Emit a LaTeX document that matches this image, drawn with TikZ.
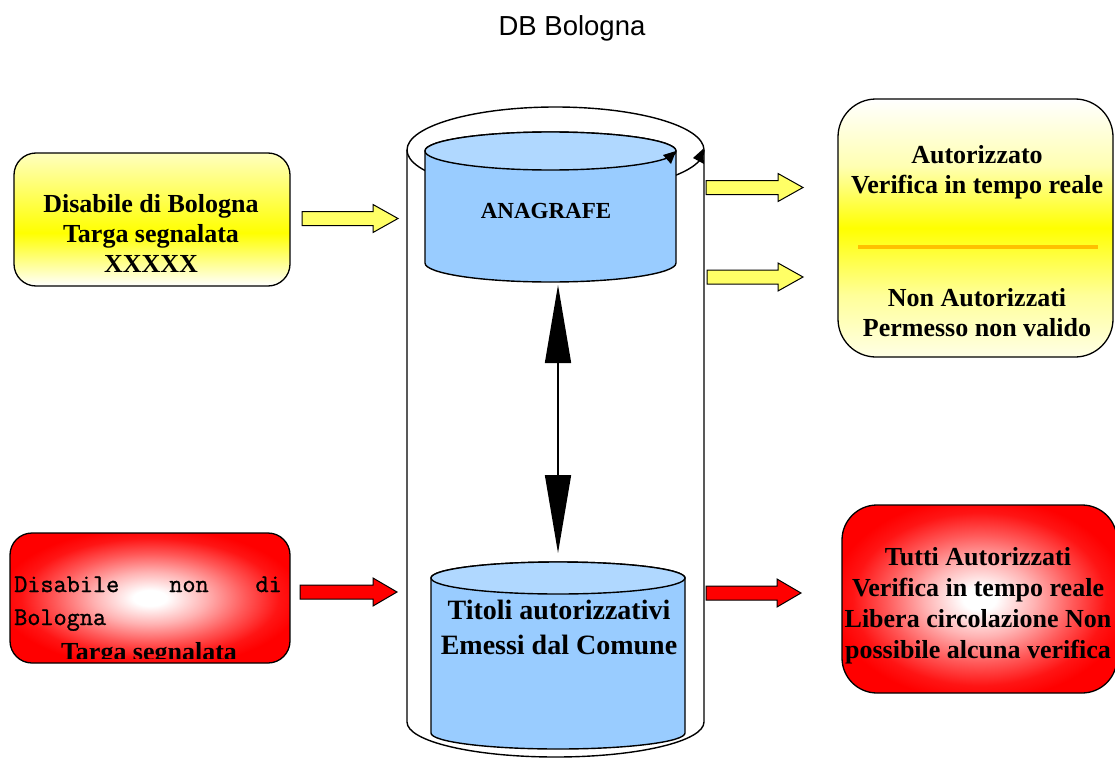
\documentclass[tikz,border=0pt]{standalone}
\usepackage{fontspec}
\setmainfont{Liberation Serif}
\newfontfamily\titlefont{Liberation Sans}
\newfontfamily\monofont[FakeBold=1.2]{Latin Modern Mono}
\usetikzlibrary{arrows.meta}

\definecolor{dbblue}{HTML}{99CCFF}
\definecolor{dbbluetop}{HTML}{B0D8FF}
\definecolor{sepline}{HTML}{FFC000}
\definecolor{arrowyellow}{HTML}{FFFF66}

% vertical glow of the yellow boxes (0bp = bottom, 100bp = top)
\pgfdeclareverticalshading{inputyellow}{100bp}{color(0bp)=(white); color(25bp)=(white); color(45bp)=(yellow); color(75bp)=(yellow!25); color(100bp)=(yellow!25)}
\pgfdeclareverticalshading{outputyellow}{100bp}{color(0bp)=(yellow!10); color(25bp)=(yellow!10); color(37bp)=(yellow!40); color(50bp)=(yellow); color(62bp)=(yellow!30); color(75bp)=(white); color(100bp)=(white)}
% white core fading smoothly to red at the border
\pgfdeclareradialshading{redglow}{\pgfpoint{0bp}{0bp}}{color(0bp)=(white); color(3bp)=(white); color(10bp)=(red!30); color(17bp)=(red!65); color(23bp)=(red!92); color(27bp)=(red); color(50bp)=(red)}

% block arrow: start x, tip x, centre y, head base x, fill colour
\newcommand\blockarrow[5]{%
  \draw[line width=1pt, fill=#5] (#1,#3-7) -- (#4,#3-7) -- (#4,#3-14) -- (#2,#3)
    -- (#4,#3+14) -- (#4,#3+7) -- (#1,#3+7) -- cycle;}

\tikzset{
  box/.style={draw, line width=1.3pt, inner sep=0pt},
  boxtext/.style={font=\bfseries\fontsize{26}{30}\selectfont, align=center, inner sep=0pt},
  dbline/.style={line width=1.4pt},
  monotext/.style={font=\monofont\fontsize{25.5}{30}\selectfont, inner sep=0pt},
}

\begin{document}
\begin{tikzpicture}[x=1pt,y=-1pt]
\useasboundingbox (0,0) rectangle (1115,757);
\fill[white] (0,0) rectangle (1115,757);

% title
\node[font=\titlefont\fontsize{27.5}{30}\selectfont, inner sep=0pt] (title) at (572,28) {DB Bologna};

% ---- outer database cylinder ----
\draw[dbline, fill=white] (407,150) -- (407,722)
  arc[start angle=180, end angle=360, x radius=148.5pt, y radius=35pt] -- (704,150);
\draw[dbline] (555.5,150) ellipse[x radius=148.5pt, y radius=43pt];
\fill (703,149) -- (693,158) -- (704,164) -- cycle;

% ---- ANAGRAFE cylinder ----
\draw[dbline, fill=dbblue] (425,151) -- (425,263)
  arc[start angle=180, end angle=360, x radius=125.5pt, y radius=19pt] -- (676,151)
  arc[start angle=0, end angle=180, x radius=125.5pt, y radius=19pt] -- cycle;
\draw[dbline, fill=dbbluetop] (550.5,151) ellipse[x radius=125.5pt, y radius=19pt];
\fill (676,151) -- (663,155) -- (671,164) -- cycle;
\node[font=\bfseries\fontsize{23}{26}\selectfont, inner sep=0pt] (ana) at (546,211) {ANAGRAFE};

% ---- Titoli cylinder ----
\draw[dbline, fill=dbblue] (431,578) -- (431,733)
  arc[start angle=180, end angle=360, x radius=127pt, y radius=16pt] -- (685,578)
  arc[start angle=0, end angle=180, x radius=127pt, y radius=16pt] -- cycle;
\draw[dbline, fill=dbbluetop] (558,578) ellipse[x radius=127pt, y radius=16pt];
\node[font=\bfseries\fontsize{28}{35}\selectfont, align=center, inner sep=0pt] (tit) at (559,627.2)
  {Titoli autorizzativi\\Emessi dal Comune};

% link between the two archives
\coordinate (anabot) at (558,285);
\coordinate (tittop) at (558,553);
\draw[line width=1.6pt, {Triangle[length=78pt,width=26pt]}-{Triangle[length=78pt,width=26pt]}] (anabot) -- (tittop);

% ---- input: resident ----
\node[box, rounded corners=22pt, minimum width=276pt, minimum height=133pt, shade, shading=inputyellow] (inres) at (152,219.5) {};
\node[boxtext] (inrestext) at (151,233) {Disabile di Bologna\\Targa segnalata\\XXXXX};
\blockarrow{302}{398}{218.5}{373}{arrowyellow}

% ---- input: non resident ----
\node[box, rounded corners=22pt, minimum width=280pt, minimum height=130pt, shade, shading=redglow] (innon) at (150,598) {};
\node[monotext, anchor=base west] (nonw1) at (14,592) {Disabile};
\node[monotext, anchor=base] (nonw2) at (189,592) {non};
\node[monotext, anchor=base east] (nonw3) at (282,592) {di};
\node[monotext, anchor=base west] (nonw4) at (14,625) {Bologna};
\begin{scope}
  \clip (0,0) rectangle (1115,658);
  \node[boxtext, anchor=base] (nontarga) at (149,660.5) {Targa segnalata};
\end{scope}
\blockarrow{300}{397}{592}{373}{red}

% ---- outputs ----
\blockarrow{706}{803}{187.5}{778}{arrowyellow}
\blockarrow{707}{803}{277}{778}{arrowyellow}
\blockarrow{706}{801}{593}{777}{red}

\node[box, rounded corners=38pt, minimum width=275pt, minimum height=258pt, shade, shading=outputyellow] (outok) at (975.5,228) {};
\draw[sepline, line width=4pt] (858,247) -- (1098,247);
\node[boxtext] (outoktext) at (977,172.6) {Autorizzato\\Verifica in tempo reale};
\node[boxtext] (outkotext) at (977,312.2) {Non Autorizzati\\Permesso non valido};

\node[box, rounded corners=35pt, minimum width=275pt, minimum height=188pt, shade, shading=redglow] (outall) at (979.5,599) {};
\node[boxtext, font=\bfseries\fontsize{26}{31}\selectfont] (outalltext) at (978,606)
  {Tutti Autorizzati\\Verifica in tempo reale\\Libera circolazione Non\\possibile alcuna verifica};
\end{tikzpicture}
\end{document}
